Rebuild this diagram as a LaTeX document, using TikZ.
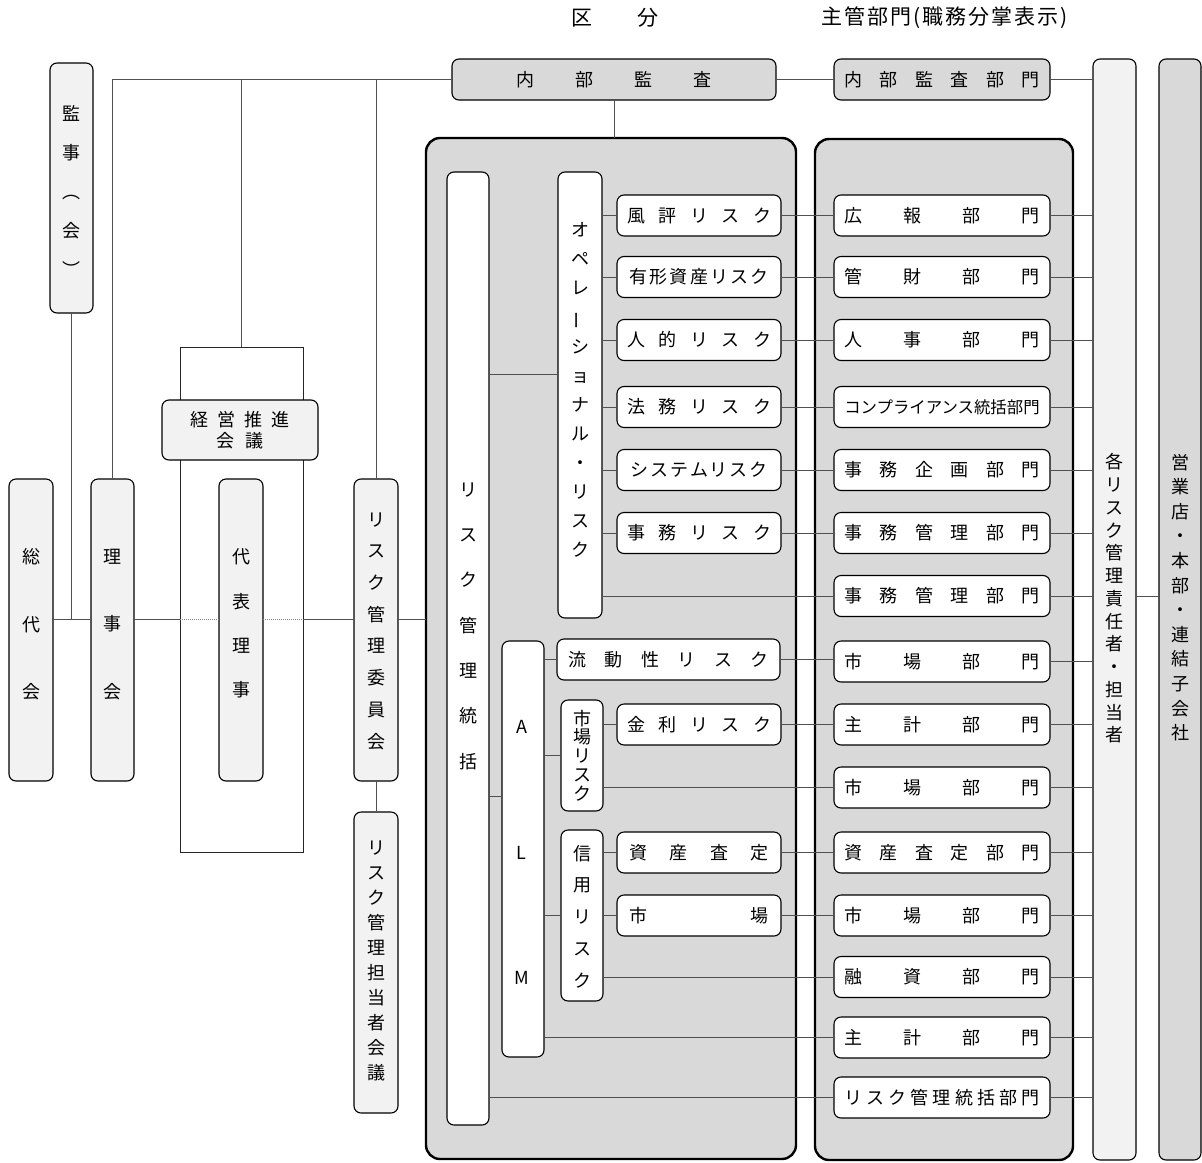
\documentclass[tikz,border=0pt]{standalone}
\usepackage{fontspec}
\newfontfamily\jp{Noto Sans CJK JP}
\definecolor{gd}{HTML}{D9D9D9}
\definecolor{gl}{HTML}{F2F2F2}
\definecolor{ln}{HTML}{505050}
\newcommand\spr[2]{\makebox[#1]{\foreach \ch [count=\ci] in {#2}{\ifnum\ci>1 \hfill\fi\ch}}}
\newcommand\vbar{\rotatebox[origin=c]{90}{ー}}
\tikzset{
 bx/.style={draw=black, line width=1.1pt, rounded corners=7pt, inner sep=0pt, outer sep=0pt, font=\jp\fontsize{18}{21}\selectfont},
 wbox/.style={bx, fill=white},
 lbox/.style={bx, fill=gl},
 gbox/.style={bx, fill=gd},
 cont/.style={draw=black, line width=2.4pt, rounded corners=14pt, fill=gd, inner sep=0pt, outer sep=0pt},
 vt/.style={align=center, inner sep=0pt, outer sep=0pt, font=\jp\fontsize{18}{#1}\selectfont},
 cn/.style={draw=ln, line width=1pt},
 dotl/.style={draw=ln!70, line width=1pt, densely dotted},
 rk/.style={wbox, minimum width=164pt, minimum height=41pt},
 dp/.style={wbox, minimum width=216pt, minimum height=41pt},
 hd/.style={inner sep=0pt, font=\jp\fontsize{21}{24}\selectfont},
}
\begin{document}
\begin{tikzpicture}[x=1pt,y=-1pt]
\useasboundingbox (0,0) rectangle (1202,1162);
% containers
\node[cont, minimum width=370pt, minimum height=1021pt] (lc) at (611,648.5) {};
\node[cont, minimum width=258pt, minimum height=1021pt] (rc) at (944,649.5) {};
% headers
\node[hd] (h1) at (615,18) {\spr{88pt}{区,分}};
\node[hd] (h2) at (944.5,18) {\spr{247pt}{主,管,部,門,{(},職,務,分,掌,表,示,{)}}};
% left side
\node[lbox, minimum width=43pt, minimum height=250pt] (kanji) at (71.5,188) {};
\node[vt=39] (kanjit) at (71.5,190.5) {監\\事\\︵\\会\\︶};
\node[draw=black!85, line width=0.9pt, minimum width=123pt, minimum height=505pt, inner sep=0pt, outer sep=0pt] (frame) at (241.5,599.5) {};
\node[lbox, minimum width=156pt, minimum height=60pt, align=center] (keiei) at (240,430) {\spr{100pt}{経,営,推,進}\\\spr{47pt}{会,議}};
\node[lbox, minimum width=44pt, minimum height=302pt] (soudai) at (31,630) {};
\node[vt=67.5] (soudait) at (31,624.5) {総\\代\\会};
\node[lbox, minimum width=43pt, minimum height=302pt] (riji) at (112.5,630) {};
\node[vt=67.5] (rijit) at (112.5,624.5) {理\\事\\会};
\node[lbox, minimum width=44pt, minimum height=302pt] (daihyo) at (241,630) {};
\node[vt=44.3] (daihyot) at (241,623.5) {代\\表\\理\\事};
\node[lbox, minimum width=44pt, minimum height=302pt] (iinkai) at (376,630) {};
\node[vt=31.7] (iinkait) at (376,631) {リ\\ス\\ク\\管\\理\\委\\員\\会};
\node[lbox, minimum width=44pt, minimum height=301pt] (tantou) at (376,962.5) {};
\node[vt=25] (tantout) at (376,960.5) {リ\\ス\\ク\\管\\理\\担\\当\\者\\会\\議};
% top
\node[gbox, minimum width=324pt, minimum height=41pt] (naibu) at (614,79.5) {\spr{195pt}{内,部,監,査}};
\node[gbox, minimum width=216pt, minimum height=41pt] (naibubumon) at (942,79.5) {\spr{195pt}{内,部,監,査,部,門}};
% right columns
\node[lbox, minimum width=43pt, minimum height=1101pt] (kaku) at (1114.5,609.5) {};
\node[vt=22.75] (kakut) at (1114.5,598.5) {各\\リ\\ス\\ク\\管\\理\\責\\任\\者\\・\\担\\当\\者};
\node[gbox, minimum width=42pt, minimum height=1101pt] (eigyo) at (1180,609.5) {};
\node[vt=24.6] (eigyot) at (1180,597.5) {営\\業\\店\\・\\本\\部\\・\\連\\結\\子\\会\\社};
% inner left container
\node[wbox, minimum width=42pt, minimum height=953pt] (toukatsu) at (468,648.5) {};
\node[vt=45.3] (toukatsut) at (468,626) {リ\\ス\\ク\\管\\理\\統\\括};
\node[wbox, minimum width=44pt, minimum height=446pt] (ope) at (580,395) {};
\node[vt=29.1] (opet) at (580,390) {オ\\ペ\\レ\\\vbar\\シ\\ョ\\ナ\\ル\\・\\リ\\ス\\ク};
\node[wbox, minimum width=42pt, minimum height=416pt] (alm) at (523,849) {};
\node[vt=125.5] (almt) at (521.5,852.5) {A\\L\\M};
\node[wbox, minimum width=42pt, minimum height=111pt] (shijor) at (582,755.5) {};
\node[vt=18.75] (shijort) at (582,755.5) {市\\場\\リ\\ス\\ク};
\node[wbox, minimum width=42pt, minimum height=171pt] (shinyo) at (582,915.5) {};
\node[vt=31.75] (shinyot) at (582,916.5) {信\\用\\リ\\ス\\ク};
% risk boxes
\node[rk] (fuuhyo) at (699,215.5) {\spr{144pt}{風,評,リ,ス,ク}};
\node[rk] (yukei) at (699,277) {\spr{139pt}{有,形,資,産,リ,ス,ク}};
\node[rk] (jinteki) at (699,340) {\spr{144pt}{人,的,リ,ス,ク}};
\node[rk] (houmu) at (699,407) {\spr{144pt}{法,務,リ,ス,ク}};
\node[rk] (system) at (699,470) {\spr{138pt}{シ,ス,テ,ム,リ,ス,ク}};
\node[rk] (jimu) at (699,533) {\spr{144pt}{事,務,リ,ス,ク}};
\node[wbox, minimum width=223pt, minimum height=41pt] (ryudo) at (668.5,659.5) {\spr{201pt}{流,動,性,リ,ス,ク}};
\node[rk] (kinri) at (699,724.5) {\spr{144pt}{金,利,リ,ス,ク}};
\node[rk] (shisan) at (699,852.5) {\spr{139pt}{資,産,査,定}};
\node[rk] (ichiba) at (699,915.5) {\spr{139pt}{市,場}};
% departments
\node[dp] (kouhou) at (942,215.5) {\spr{195pt}{広,報,部,門}};
\node[dp] (kanzai) at (942,277) {\spr{195pt}{管,財,部,門}};
\node[dp] (jinji) at (942,340) {\spr{195pt}{人,事,部,門}};
\node[dp, font=\jp\fontsize{16.4}{20}\selectfont] (compl) at (942,407) {コンプライアンス統括部門};
\node[dp] (kikaku) at (942,470) {\spr{195pt}{事,務,企,画,部,門}};
\node[dp] (kanri1) at (942,533) {\spr{195pt}{事,務,管,理,部,門}};
\node[dp] (kanri2) at (942,596) {\spr{195pt}{事,務,管,理,部,門}};
\node[dp] (shijo1) at (942,661.5) {\spr{195pt}{市,場,部,門}};
\node[dp] (shukei1) at (942,724.5) {\spr{195pt}{主,計,部,門}};
\node[dp] (shijo2) at (942,787.5) {\spr{195pt}{市,場,部,門}};
\node[dp] (shisand) at (942,852.5) {\spr{195pt}{資,産,査,定,部,門}};
\node[dp] (shijo3) at (942,915.5) {\spr{195pt}{市,場,部,門}};
\node[dp] (yushi) at (942,977) {\spr{195pt}{融,資,部,門}};
\node[dp] (shukei2) at (942,1037.5) {\spr{195pt}{主,計,部,門}};
\node[dp] (rtd) at (942,1097.5) {\spr{195pt}{リ,ス,ク,管,理,統,括,部,門}};
% helper coordinates
\coordinate (hl) at (0,619);
\coordinate (y374) at (0,374);
\coordinate (y796) at (0,796);
% connectors: left side
\draw[cn] (riji.north) |- (naibu.west);
\draw[cn] (frame.north) -- (frame.north |- naibu.west);
\draw[cn] (iinkai.north) -- (iinkai.north |- naibu.west);
\draw[cn] (kanji.south) -- (kanji.south |- hl);
\draw[cn] (soudai.east |- hl) -- (riji.west |- hl);
\draw[cn] (riji.east |- hl) -- (frame.west |- hl);
\draw[dotl] (frame.west |- hl) -- (daihyo.west |- hl);
\draw[dotl] (daihyo.east |- hl) -- (frame.east |- hl);
\draw[cn] (frame.east |- hl) -- (iinkai.west |- hl);
\draw[cn] (iinkai.east |- hl) -- (lc.west |- hl);
\draw[cn] (iinkai.south) -- (tantou.north);
% top
\draw[cn] (naibu.south) -- (naibu.south |- lc.north);
\draw[cn] (naibu.east) -- (naibubumon.west);
\draw[cn] (naibubumon.east) -- (naibubumon.east -| kaku.west);
% inner structure
\draw[cn] (toukatsu.east |- y374) -- (ope.west |- y374);
\draw[cn] (toukatsu.east |- y796) -- (alm.west |- y796);
\draw[cn] (toukatsu.east |- rtd.west) -- (rtd.west);
\foreach \r in {fuuhyo,yukei,jinteki,houmu,system,jimu}{
  \draw[cn] (ope.east |- \r.west) -- (\r.west);
}
\draw[cn] (ope.east |- kanri2.west) -- (kanri2.west);
\draw[cn] (alm.east |- ryudo.west) -- (ryudo.west);
\draw[cn] (alm.east |- shijor.west) -- (shijor.west);
\draw[cn] (alm.east |- shinyo.west) -- (shinyo.west);
\draw[cn] (alm.east |- shukei2.west) -- (shukei2.west);
\draw[cn] (shijor.east |- kinri.west) -- (kinri.west);
\draw[cn] (shijor.east |- shijo2.west) -- (shijo2.west);
\draw[cn] (shinyo.east |- shisan.west) -- (shisan.west);
\draw[cn] (shinyo.east |- ichiba.west) -- (ichiba.west);
\draw[cn] (shinyo.east |- yushi.west) -- (yushi.west);
% risk to department
\draw[cn] (fuuhyo.east) -- (kouhou.west);
\draw[cn] (yukei.east) -- (kanzai.west);
\draw[cn] (jinteki.east) -- (jinji.west);
\draw[cn] (houmu.east) -- (compl.west);
\draw[cn] (system.east) -- (kikaku.west);
\draw[cn] (jimu.east) -- (kanri1.west);
\draw[cn] (ryudo.east) -- (ryudo.east -| shijo1.west);
\draw[cn] (kinri.east) -- (shukei1.west);
\draw[cn] (shisan.east) -- (shisand.west);
\draw[cn] (ichiba.east) -- (shijo3.west);
% department to responsible
\foreach \d in {kouhou,kanzai,jinji,compl,kikaku,kanri1,kanri2,shijo1,shukei1,shijo2,shisand,shijo3,yushi,shukei2,rtd}{
  \draw[cn] (\d.east) -- (\d.east -| kaku.west);
}
\draw[cn] (kaku.east |- kanri2.east) -- (eigyo.west |- kanri2.east);
\end{tikzpicture}
\end{document}
